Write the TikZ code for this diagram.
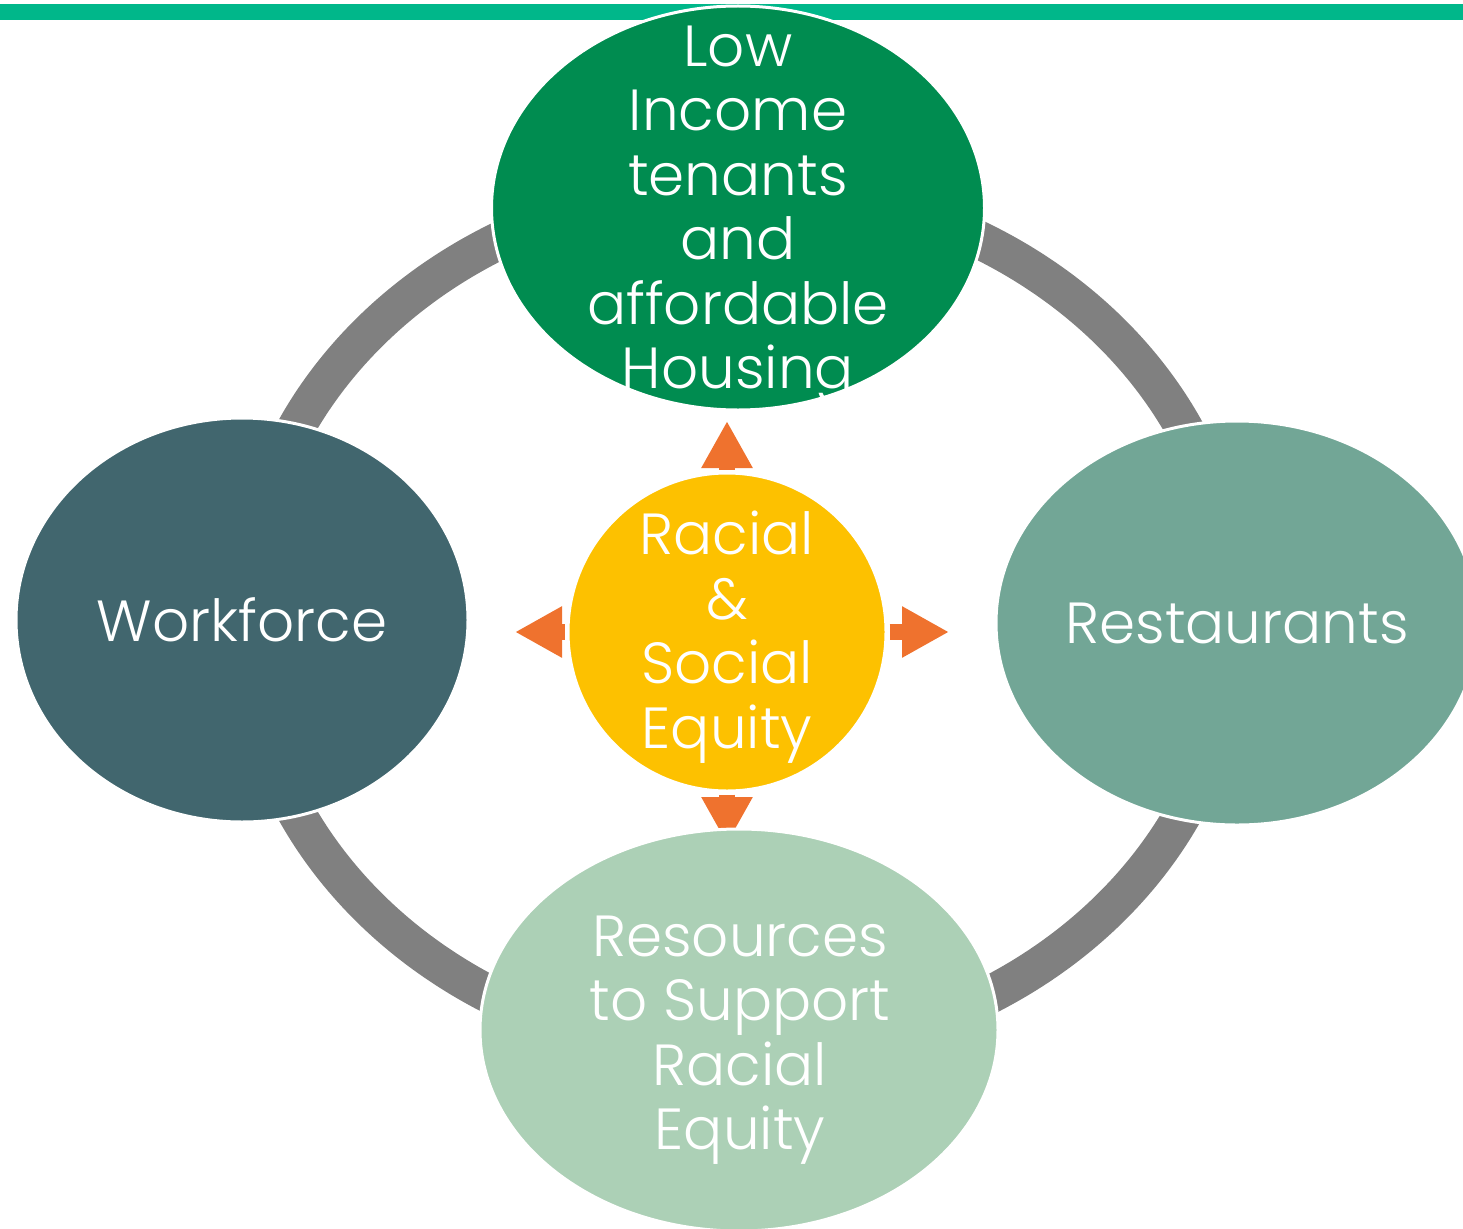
\documentclass[tikz,border=0pt]{standalone}
\usepackage{fontspec}
\setmainfont{Poppins Light}
\usepackage{tikz}
\usetikzlibrary{shapes.geometric,arrows.meta}

\definecolor{barteal}{RGB}{0,183,138}
\definecolor{housinggreen}{RGB}{0,140,80}
\definecolor{workslate}{RGB}{65,102,110}
\definecolor{restsage}{RGB}{114,166,150}
\definecolor{resmint}{RGB}{172,208,182}
\definecolor{equityyellow}{RGB}{253,193,0}
\definecolor{pushorange}{RGB}{239,114,46}
\definecolor{ringgray}{RGB}{128,128,128}

\tikzset{
    blob/.style={ellipse, draw=white, line width=3pt, inner sep=0pt},
    blobtext/.style={text=white, align=center, inner sep=0pt,
        font=\fontsize{58}{64.5}\selectfont},
    pusharrow/.style={draw=pushorange, line width=16pt,
        -{Triangle[length=47pt,width=48pt]}}
}

\begin{document}
\begin{tikzpicture}[x=1pt,y=-1pt]
                \clip (0,0) rectangle (1463,1228);
                \fill[barteal] (0,4) rectangle (1463,20);

                \draw[ringgray, line width=38pt] (740,620) ellipse [x radius=495, y radius=434];

                \node[circle, draw=white, line width=3pt, fill=equityyellow,
                    minimum size=318pt, inner sep=0pt] (equity) at (727,632) {};

                \coordinate (uptip) at (727,421);
                \coordinate (lefttip) at (515,632);
                \coordinate (righttip) at (949,632);
                \coordinate (downtip) at (727,844);

                \draw[pusharrow, shorten <=2pt] (equity.north) -- (uptip);
                \draw[pusharrow, shorten <=2pt] (equity.west) -- (lefttip);
                \draw[pusharrow, shorten <=2pt] (equity.east) -- (righttip);
                \draw[pusharrow, shorten <=2pt] (equity.south) -- (downtip);

                \node[blob, fill=housinggreen, minimum width=493pt, minimum height=404pt]
                    (housing) at (738,208) {};
                \node[blob, fill=workslate, minimum width=452pt, minimum height=404pt]
                    (workforce) at (242,620) {};
                \node[blob, fill=restsage, minimum width=482pt, minimum height=404pt]
                    (restaurants) at (1237,623) {};
                \node[blob, fill=resmint, minimum width=518pt, minimum height=402pt]
                    (resources) at (739,1030) {};

                \node[blobtext] (housinglabel) at (738,215)
                    {Low\\Income\\tenants\\and\\affordable\\Housing};
                \node[blobtext] (workforcelabel) at (workforce) {Workforce};
                \node[blobtext] (restaurantslabel) at (restaurants) {Restaurants};
                \node[blobtext] (resourceslabel) at (740,1040)
                    {Resources\\to Support\\Racial\\Equity};
                \node[blobtext] (equitylabel) at (727,637)
                    {Racial\\\&\\Social\\Equity};
\end{tikzpicture}
\end{document}
